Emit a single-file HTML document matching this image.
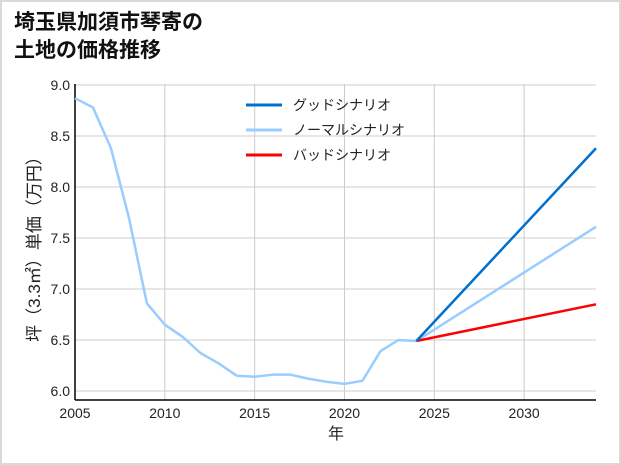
<!DOCTYPE html>
<html><head><meta charset="utf-8"><style>
body{margin:0;background:#fff}
#wrap{position:relative;width:617px;height:461px;border:2px solid #d9d9d9;background:#fff;font-family:"Liberation Sans","Noto Sans CJK JP",sans-serif}
#title{position:absolute;left:12px;top:7px;font-size:21px;font-weight:bold;line-height:28px;color:#111}
svg{position:absolute;left:-2px;top:-2px}
</style></head><body>
<div id="wrap">
<div id="title">埼玉県加須市琴寄の<br>土地の価格推移</div>
<svg id="chart" width="621" height="465"></svg>
</div>
<script>
const years=[2005,2006,2007,2008,2009,2010,2011,2012,2013,2014,2015,2016,2017,2018,2019,2020,2021,2022,2023,2024];
const prices=[8.87,8.78,8.38,7.70,6.86,6.65,6.53,6.37,6.27,6.15,6.14,6.16,6.16,6.12,6.09,6.07,6.10,6.39,6.50,6.49];
const scenarioYears=[2024,2034];
const goodVals=[6.49,8.38];
const normalVals=[6.49,7.61];
const badVals=[6.49,6.85];
const xTicks=[2005,2010,2015,2020,2025,2030];
const yTicks=[6.0,6.5,7.0,7.5,8.0,8.5,9.0];
const legendLabels=["グッドシナリオ","ノーマルシナリオ","バッドシナリオ"];

const NS="http://www.w3.org/2000/svg";
const svg=document.getElementById('chart');
const L=75,R=596,T=84,B=400;
const x=v=>L+(v-2005)*(R-L)/29;
const y=v=>391-(v-6.0)*102;
function mk(tag,attrs,parent){const e=document.createElementNS(NS,tag);for(const k in attrs)e.setAttribute(k,attrs[k]);(parent||svg).appendChild(e);return e;}
xTicks.forEach(t=>{
  const g=mk('line',{x1:x(t),x2:x(t),y1:T,y2:B,stroke:'#cccccc','stroke-width':1});
  
  
  const tx=mk('text',{x:x(t),y:418,'text-anchor':'middle','font-size':14,fill:'#222'});
  tx.textContent=t;
  
  
});
yTicks.forEach(t=>{
  const g=mk('line',{x1:L,x2:R,y1:y(t),y2:y(t),stroke:'#cccccc','stroke-width':1});
  
  
  const tx=mk('text',{x:70,y:y(t)+5,'text-anchor':'end','font-size':14,fill:'#222'});
  tx.textContent=t.toFixed(1);
  
  
});
let a=mk('line',{x1:L,x2:L,y1:T,y2:B,stroke:'#000','stroke-width':1.5});


a=mk('line',{x1:L,x2:R,y1:B,y2:B,stroke:'#000','stroke-width':1.5});


function line(xs,vs,color,name){
  const p=mk('polyline',{points:xs.map((v,i)=>x(v)+','+y(vs[i])).join(' '),fill:'none',stroke:color,'stroke-width':2.5,'stroke-linejoin':'round'});
  
  
}
line(years,prices,'#99ccff','history-line');
line(scenarioYears,normalVals,'#99ccff','normal-scenario-line');
line(scenarioYears,badVals,'#ff0000','bad-scenario-line');
line(scenarioYears,goodVals,'#0070cc','good-scenario-line');
const colors=['#0070cc','#99ccff','#ff0000'];
legendLabels.forEach((lab,i)=>{
  const yy=105+i*25;
  const l=mk('line',{x1:246,x2:282,y1:yy,y2:yy,stroke:colors[i],'stroke-width':3});
  
  
  const t=mk('text',{x:293,y:yy+5,'font-size':14,fill:'#222'});
  t.textContent=lab;
  
  
});
let xt=mk('text',{x:336,y:439,'text-anchor':'middle','font-size':16,fill:'#222'});
xt.textContent='年';


let yt=mk('text',{x:0,y:0,'text-anchor':'middle','font-size':17,fill:'#222',transform:'translate(40,245) rotate(-90)'});
yt.textContent='坪（3.3㎡）単価（万円）';


</script>
</body></html>
